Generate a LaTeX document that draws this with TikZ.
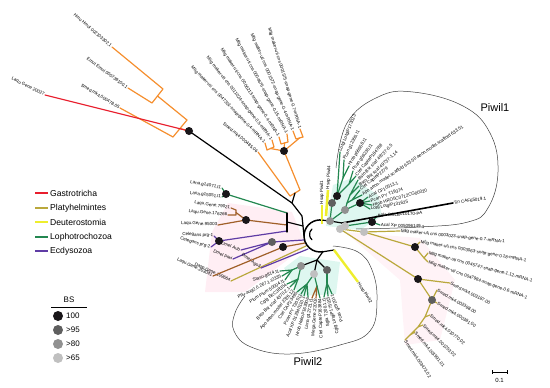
\documentclass[tikz,border=0pt]{standalone}
\usepackage{fontspec}
\newfontfamily\lsans{Liberation Sans}
\newcommand\lfs{\lsans\fontsize{4.5}{5}\selectfont}
\newcommand\leafE[4]{\coordinate (#1) at (#2); \node[lab,anchor=east,rotate=#3] (#1-t) at (#1) {#4};}
\newcommand\leafW[4]{\coordinate (#1) at (#2); \node[lab,anchor=west,rotate=#3] (#1-t) at (#1) {#4};}
\definecolor{cRed}{RGB}{232,30,45}
\definecolor{cOr}{RGB}{245,142,45}
\definecolor{cOl}{RGB}{186,168,60}
\definecolor{cYe}{RGB}{238,238,45}
\definecolor{cGr}{RGB}{35,135,80}
\definecolor{cPu}{RGB}{95,60,165}
\definecolor{cBr}{RGB}{160,95,40}
\definecolor{cPink}{RGB}{255,238,244}
\definecolor{cMint}{RGB}{222,247,240}
\definecolor{cD1}{RGB}{25,22,25}
\definecolor{cD2}{RGB}{95,95,95}
\definecolor{cD3}{RGB}{145,145,145}
\definecolor{cD4}{RGB}{192,192,192}
\begin{document}
\begin{tikzpicture}[x=1pt,y=-1pt,
  br/.style={line width=1.2pt,line join=round,line cap=round},
  lab/.style={font=\lfs,inner sep=0.7pt},
  bsd/.style={circle,inner sep=0pt,minimum size=8pt},
  leg/.style={font=\lsans\fontsize{8.6}{10}\selectfont,anchor=west,inner sep=1pt},
  clade/.style={line width=0.5pt,draw=black!75},
]
\useasboundingbox (0,0) rectangle (550,388);
% ---------- background shading
\fill[cPink] (228,203) -- (292,212) -- (306,246) -- (245,292) -- (205,292) -- (212,232) -- cycle;
\fill[cPink!70] (345,232) -- (420,238) -- (455,280) -- (440,340) -- (405,345) -- (400,280) -- cycle;
\fill[cMint] (326,226) -- (333,185) -- (352,178) -- (378,195) -- (382,216) -- (360,230) -- cycle;
\fill[cMint] (284,268) -- (300,256) -- (340,262) -- (336,294) -- (300,296) -- cycle;
% ---------- clade outlines
\draw[clade] plot[smooth,tension=0.7] coordinates {(336,168) (347,123) (378,97) (413,92) (463,106) (490,133) (498,172) (488,208) (468,222) (420,227) (356,229)};
\draw[clade] plot[smooth,tension=0.7] coordinates {(245,296) (235,313) (234,331) (251,347) (290,354) (340,345) (370,331) (377,300) (372,270) (358,252) (333,246)};
\node[font=\lsans\fontsize{11}{13}\selectfont] (pw1) at (495,108) {Piwil1};
\node[font=\lsans\fontsize{11}{13}\selectfont] (pw2) at (308,362) {Piwil2};
% ---------- leaves: outgroup (orange, red)
\leafE{hmo}{112,47}{-41}{Hmo Hmol 002103302.1}
\leafE{emu}{128,88}{-36}{Emul Emul 000739100.1}
\leafE{sma}{120,108}{-31}{Smed.mk4.000478.05}
\leafE{lqa}{45,95}{-26}{Laqu Gene 20027}
\coordinate (o1) at (163,89); \coordinate (o2) at (152,103); \coordinate (oA) at (157.5,96);
\coordinate (o3) at (187,120); \coordinate (o4) at (173,137); \coordinate (oB) at (180,128.5);
\coordinate (N) at (189,131);
\draw[br,cOr] (hmo) -- (o1) -- (o2) -- (emu);
\draw[br,cOr] (oA) -- (o3) -- (o4) -- (sma);
\draw[br,cOr] (oB) -- (N);
\draw[br,cRed] (lqa) -- (N);
% orange Mlig clade
\leafE{ml1}{265,143}{-46}{Mlig maker-uti cns 0047301-snap-gene-0.4-mRNA-1}
\leafE{ml2}{272,140}{-52}{Mlig maker-uti cns 0011024-snap-gene-0.5-mRNA-1}
\leafE{ml3}{279,137}{-57}{Mlig maker-uti cns 0006213-snap-gene-0.4-mRNA-1}
\leafE{ml4}{287,134}{-62}{Mlig maker-uti cns 0004676-snap-gene-0.15-mRNA-1}
\leafE{ml5}{293,131}{-67}{Mlig maker-uti cns 0001572-snap-gene-0.4-mRNA-1}
\leafE{ml6}{300,129}{-73}{Mlig maker-uti cns 0001575-snap-gene-0.7-mRNA-1}
\leafE{smb}{258,152}{-40}{Smed.mk4.000485.06}
\coordinate (m1) at (267,150); \coordinate (m2) at (274,147); \coordinate (m12) at (270.5,148.5);
\coordinate (m3) at (281,144); \coordinate (m4) at (288,142); \coordinate (m34) at (284.5,143);
\coordinate (m5) at (296,139); \coordinate (m6) at (303,137); \coordinate (m56) at (299.5,138);
\coordinate (D2) at (284,151); \coordinate (oM) at (300,190); \coordinate (oS) at (290,196); \coordinate (oSM) at (295,193);
\draw[br,cOr] (ml1) -- (m1) -- (m2) -- (ml2);
\draw[br,cOr] (ml3) -- (m3) -- (m4) -- (ml4);
\draw[br,cOr] (ml5) -- (m5) -- (m6) -- (ml6);
\draw[br,cOr] (m12) -- (D2) -- (m34); \draw[br,cOr] (D2) -- (m56);
\draw[br,cOr] (D2) -- (oM) -- (oS) -- (smb);
% ---------- left clades
\leafE{laa}{222,188}{-10}{Lana.g14071.t1}
\leafE{lab}{222,197}{-7}{Lana.g15051.t1}
\coordinate (D3) at (226,194); \coordinate (gL) at (287,213);
\draw[br,cGr] (laa) -- (D3) -- (lab); \draw[br,cGr] (D3) -- (gL);
\leafE{lqb}{231,208}{-8}{Laqu.Gene.79021}
\leafE{lqc}{228,215}{-5}{Laqu.Gene.176266}
\leafE{lqd}{218,225}{-3}{Laqu.Gene.95003}
\coordinate (b1) at (236,210); \coordinate (b2) at (236,215); \coordinate (b12) at (236,212.5);
\coordinate (D4) at (246,220); \coordinate (bE) at (287,225);
\draw[br,cBr] (lqb) -- (b1) -- (b2) -- (lqc); \draw[br,cBr] (b12) -- (D4) -- (lqd); \draw[br,cBr] (D4) -- (bE);
\leafE{cea}{214,236}{-3}{Celegans prg-1}
\leafE{ceb}{211,247}{-15}{Celegans prg-2}
\coordinate (D5) at (219,241); \coordinate (pE) at (287,231);
\draw[br,cPu] (cea) -- (D5) -- (ceb); \draw[br,cPu] (D5) -- (pE);
\leafE{dma}{241,250}{-20}{Dmel Aub}
\leafE{dmb}{233,259}{-22}{Dmel Piwi}
\coordinate (D6) at (272,242); \coordinate (dE) at (304,240);
\draw[br,cPu] (dma) -- (D6) -- (dmb); \draw[br,cPu] (D6) -- (dE);
\leafE{lqe}{213,276}{-25}{Laqu.Gene.203041}
\leafE{daa}{231,281}{-25}{Dasp.Gene.109664}
\leafE{dmc}{261,268}{-35}{Dmel Ago3}
\coordinate (D7) at (283,247); \coordinate (D7e) at (305,243); \coordinate (daE) at (306,246); \coordinate (dcE) at (308,249);
\draw[br,cBr] (lqe) -- (D7); \draw[br,cBr] (D7) -- (D7e);
\draw[br,cOl] (daa) -- (daE);
\draw[br,cPu] (dmc) -- (dcE);
% ---------- centre (black)
\coordinate (cA) at (292,203); \coordinate (cB) at (302,216); \coordinate (cL) at (304,236);
\coordinate (aT) at (322.8,220.2); \coordinate (aB) at (322.8,251.8);
\draw[br] (N) -- (cA) -- (cB) -- (cL);
\draw[br] (oSM) -- (cA);
\draw[br] (gL) -- (287,232); \draw[br] (287,222) -- (303,226);
\draw[br,line width=1.5pt] (aT) arc[start angle=280,end angle=80,radius=16];
\draw[br] (312,229) arc[start angle=230,end angle=130,radius=7];
% ---------- Piwil1 clade
\leafW{ya}{322,205}{90}{Hsap Piwil1}
\leafW{yb}{328,190}{87}{Hsap Piwil4}
\draw[cYe,line width=2.6pt] (322,224) -- (ya);
\draw[cYe,line width=2.6pt] (326,216) -- (yb);
\leafW{fa}{340,152}{68}{Lotgi LotgiP173023}
\leafW{fb}{344,160}{63}{Pcan g12355.t1}
\leafW{fc}{349,166}{58}{Hrob p56558.t1}
\leafW{fd}{353,171}{54}{Pcan g56235.t1}
\leafW{fe}{356,176}{50}{Ctel CapteP184788}
\leafW{ff}{358,180}{46}{Bsto Bst scaf 49737-0.5}
\leafW{fg}{359,186}{42}{Bsto Bst scaf 49737-1.14}
\leafW{fh}{360,190}{38}{Ctel CapteP2279}
\leafW{fi}{362,195}{34}{Apo aeon.model.scaffold 633.50 aeon.model.scaffold 633.51}
\leafW{fj}{368,197}{26}{Acal CF10513.1}
\leafW{fk}{370,201}{20}{Pcan PY T19374}
\leafW{fl}{372,205}{15}{Hrob HRO5C0712CG00020}
\leafW{fm}{370,209}{10}{Lotg LotgiP131625}
\leafW{fn}{377,216}{3}{Bgla BGLB010170-PA}
\leafW{fo}{380,225}{-2}{Acal XP 005096149.1}
\leafW{tin}{453,203}{8}{Tin CAF65019.1}
\coordinate (h1) at (337,196); \coordinate (h5) at (332,203); \coordinate (p1r) at (330,221);
\coordinate (hbc) at (343,178); \coordinate (hde) at (349,184);
\coordinate (hfg) at (350,195); \coordinate (hhi) at (352,200); \coordinate (h2) at (347,203);
\coordinate (h3) at (360,203); \coordinate (h4) at (345,210);
\coordinate (k) at (372,222); \coordinate (kk) at (345,226); \coordinate (T0) at (342,223);
\draw[br,cGr] (fa) -- (h1); \draw[br,cGr] (fb) -- (hbc) -- (fc); \draw[br,cGr] (hbc) -- (h1);
\draw[br,cGr] (fd) -- (hde) -- (fe); \draw[br,cGr] (hde) -- (h1);
\draw[br,cGr] (h1) -- (h5) -- (p1r);
\draw[br,cGr] (ff) -- (hfg) -- (fg); \draw[br,cGr] (fh) -- (hhi) -- (fi);
\draw[br,cGr] (hfg) -- (h2) -- (hhi); \draw[br,cGr] (h2) -- (h4);
\draw[br,cGr] (fj) -- (h3) -- (fk); \draw[br,cGr] (fl) -- (h3) -- (fm); \draw[br,cGr] (h3) -- (h4);
\draw[br,cGr] (h4) -- (p1r);
\draw[br,cGr] (fn) -- (k) -- (fo); \draw[br,cGr] (k) -- (kk);
\draw[br] (aT) -- (p1r) -- (T0) -- (kk);
\draw[br,line width=1.6pt] (T0) -- (tin);
% ---------- Platyhelminthes clade (olive)
\leafW{mga}{400,231}{-6}{Mlig maker-uti cns 0003023-snap-gene-0.7-mRNA-1}
\leafW{mgb}{420,242}{-10}{Mlig maker-uti cns 0003063-snap-gene-0.18-mRNA-1}
\leafW{mgc}{428,253}{-15}{Mlig maker-uti cns 0045747-snap-gene-1.12-mRNA-1}
\leafW{mgd}{428,262}{-20}{Mlig maker-uti cns 0047984-snap-gene-0.6-mRNA-1}
\leafW{sa}{450,283}{-27}{Smed.mk4.003187.00}
\leafW{sb}{437,290}{-30}{Smed.mk4.002398.00}
\leafW{sc}{437,303}{-31}{Smed.mk4.000381.00}
\leafW{sd}{430,315}{-40}{Smed.mk4.010770.02}
\leafW{se}{423,325}{-44}{Smed.mk4.001253.02}
\leafW{sf}{415,332}{-50}{Smed.mk4.001991.01}
\leafW{sg}{405,340}{-56}{Smed.mk4.003473.02}
\coordinate (E0) at (340,229); \coordinate (E1) at (364,232); \coordinate (E2) at (415,247);
\coordinate (E3) at (424,258); \coordinate (E4) at (418,279); \coordinate (E5) at (432,300);
\coordinate (E6) at (425,317); \coordinate (E7) at (418,327); \coordinate (E8) at (410,335);
\draw[br] (kk) -- (E0);
\draw[br,cOl] (E0) -- (E1) -- (mga); \draw[br,cOl] (E1) -- (E2) -- (mgb);
\draw[br,cOl] (E2) -- (E3) -- (mgc); \draw[br,cOl] (E3) -- (mgd);
\draw[br,cOl] (E0) -- (E4) -- (sa); \draw[br,cOl] (E4) -- (E5) -- (sb); \draw[br,cOl] (E5) -- (sc);
\draw[br,cOl] (E5) -- (E6) -- (sd); \draw[br,cOl] (E6) -- (E7) -- (se);
\draw[br,cOl] (E7) -- (E8) -- (sf); \draw[br,cOl] (E8) -- (sg);
% ---------- Piwil2 clade (radial fan around (316,258))
\leafE{pa}{280,271}{20}{Stasu.g814.t1}
\leafE{pb}{282,276}{26}{Pflu.aug2.0.267.1.t2335}
\leafE{pc}{285,280}{32}{Plum Plum 50004.t1}
\leafE{pd}{287,284}{38}{Cgig EKC38354}
\leafE{pe}{290,287}{44}{Bsto Bst scaf 4370.2.1}
\leafE{pf}{294,290}{50}{Apo aeon.model 2326.12}
\leafE{pg}{297,292}{56}{Ctel CAP23495}
\leafE{ph}{301,294}{62}{Pcan PY T20511}
\leafE{pi}{304,296}{68}{Acal XP 012940110.1}
\leafE{pj}{308,297}{74}{Hrob HelroP163906}
\leafE{pk}{312,298}{80}{Lana g12721.t1}
\leafE{pl}{316,298}{86}{Mega.Gene.22002}
\leafE{pm}{320,298}{92}{Ctel CapteP163884}
\leafE{pn}{324,297}{98}{Sgla T200.1.t1}
\leafE{po}{328,296}{104}{Cgig LotgiP175015}
\leafE{pp}{332,294}{110}{Pcas g1920.t1}
\leafW{pq}{358,282}{-58}{Hsap Piwil2}
\coordinate (q1) at (292,270); \coordinate (q2) at (298,279); \coordinate (q3) at (307,284);
\coordinate (q4) at (317,286); \coordinate (q5) at (327,283);
\coordinate (q12) at (301,266); \coordinate (q34) at (314,274); \coordinate (q5b) at (327,270);
\coordinate (Q) at (317,260); \coordinate (Qy) at (334,250);
\draw[br,cGr] (pa) -- (q1) -- (pb); \draw[br,cGr] (pc) -- (q1);
\draw[br,cGr] (pd) -- (q2) -- (pe); \draw[br,cGr] (pf) -- (q2);
\draw[br,cGr] (pg) -- (q3) -- (ph); \draw[br,cGr] (pi) -- (q3) -- (pj);
\draw[br,cBr] (pk) -- (q4) -- (pl); \draw[br,cGr] (pm) -- (q4);
\draw[br,cGr] (pn) -- (q5) -- (po); \draw[br,cGr] (pp) -- (q5);
\draw[br,cGr] (q1) -- (q12) -- (q2); \draw[br,cGr] (q3) -- (q34) -- (q4);
\draw[br,cGr] (q5) -- (q5b);
\draw[br] (q12) -- (Q) -- (q34); \draw[br] (Q) -- (q5b);
\draw[br] (aB) -- (Q); \draw[br] (aB) -- (Qy);
\draw[cYe,line width=2.4pt] (Qy) -- (pq);
% ---------- bootstrap dots
\foreach \p/\c in {N/cD1,D2/cD1,D3/cD1,D4/cD1,D5/cD1,D6/cD2,D7/cD1,h5/cD2,h1/cD1,h3/cD1,h4/cD3,p1r/cD3,kk/cD4,k/cD1,E1/cD4,E0/cD4,E2/cD1,E4/cD1,E5/cD2,q12/cD3,q34/cD4,q5b/cD2}
  \node[bsd,fill=\c] (dot-\p) at (\p) {};
% ---------- legend
\coordinate (g1a) at (35,193); \coordinate (g1b) at (48,193);
\coordinate (g2a) at (35,208); \coordinate (g2b) at (48,208);
\coordinate (g3a) at (35,222); \coordinate (g3b) at (48,222);
\coordinate (g4a) at (35,237); \coordinate (g4b) at (48,237);
\coordinate (g5a) at (35,251); \coordinate (g5b) at (48,251);
\draw[cRed,line width=1.6pt] (g1a) -- (g1b); \node[leg] (lg1) at (49,193) {Gastrotricha};
\draw[cOl,line width=1.6pt] (g2a) -- (g2b); \node[leg] (lg2) at (49,208) {Platyhelmintes};
\draw[cYe,line width=1.6pt] (g3a) -- (g3b); \node[leg] (lg3) at (49,222) {Deuterostomia};
\draw[cGr,line width=1.6pt] (g4a) -- (g4b); \node[leg] (lg4) at (49,237) {Lophotrochozoa};
\draw[cPu,line width=1.6pt] (g5a) -- (g5b); \node[leg] (lg5) at (49,251) {Ecdysozoa};
\node[font=\lsans\fontsize{8}{9}\selectfont,inner sep=0pt] (bsT) at (69,300) {BS};
\coordinate (bsl) at (51,307.5); \coordinate (bsr) at (87,307.5);
\draw[line width=1pt] (bsl) -- (bsr);
\node[bsd,minimum size=10pt,fill=cD1] (b100) at (58,316) {}; \node[leg,font=\lsans\fontsize{8}{9}\selectfont] (t100) at (65,316) {100};
\node[bsd,minimum size=10pt,fill=cD2] (b95) at (58,330) {}; \node[leg,font=\lsans\fontsize{8}{9}\selectfont] (t95) at (65,330) {>95};
\node[bsd,minimum size=10pt,fill=cD3] (b80) at (58,344) {}; \node[leg,font=\lsans\fontsize{8}{9}\selectfont] (t80) at (65,344) {>80};
\node[bsd,minimum size=10pt,fill=cD4] (b65) at (58,358) {}; \node[leg,font=\lsans\fontsize{8}{9}\selectfont] (t65) at (65,358) {>65};
% ---------- scale bar
\coordinate (sc1) at (492,372); \coordinate (sc2) at (507,372);
\draw[line width=0.6pt] (sc1) -- (sc2);
\draw[line width=0.6pt] (492,370) -- (492,374); \draw[line width=0.6pt] (507,370) -- (507,374);
\node[font=\lsans\fontsize{6}{7}\selectfont] (scl) at (499.5,380) {0.1};
\end{tikzpicture}
\end{document}
